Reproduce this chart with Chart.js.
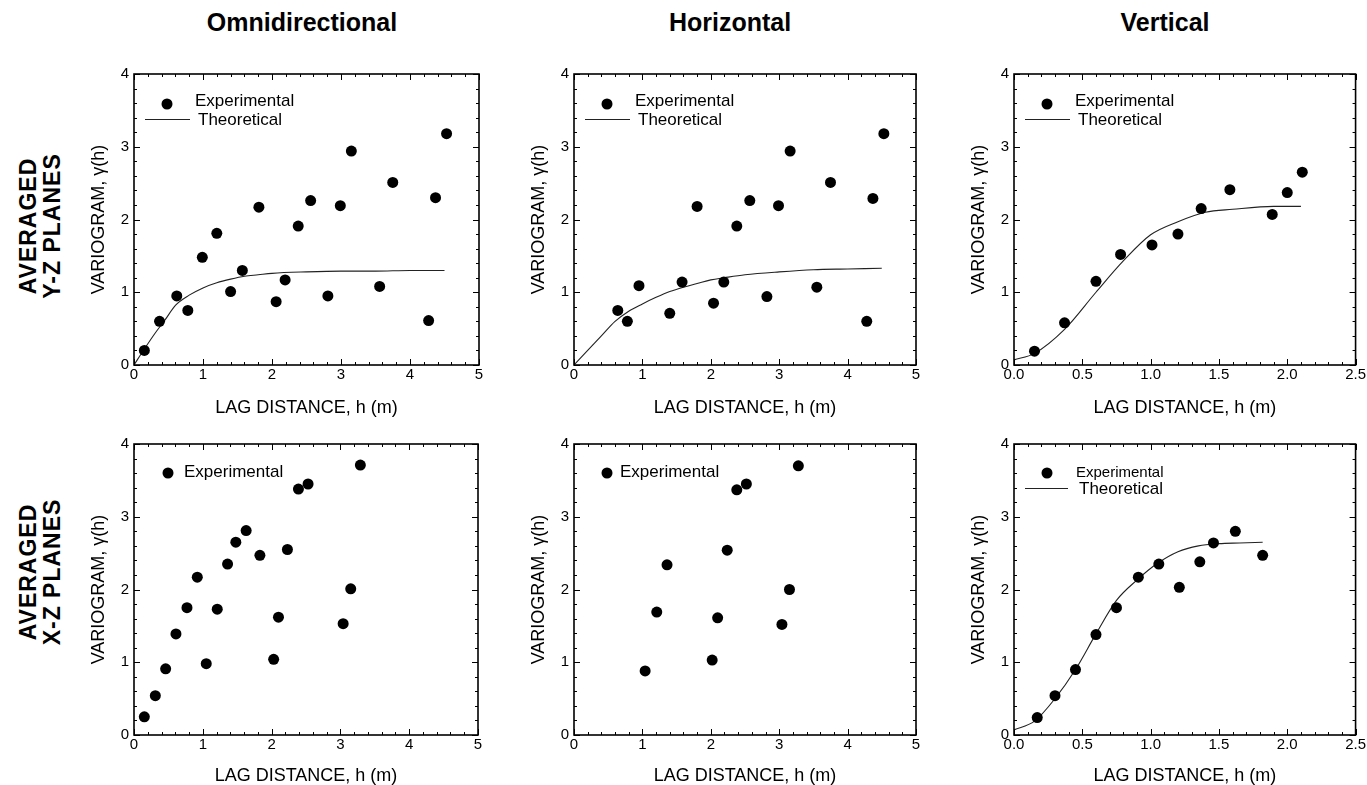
<!DOCTYPE html>
<html><head><meta charset="utf-8">
<script src="https://cdn.jsdelivr.net/npm/chart.js@4.4.1/dist/chart.umd.min.js"></script>
<style>
html,body{margin:0;padding:0;background:#fff;width:1367px;height:785px;overflow:hidden;position:relative;font-family:"Liberation Sans",Arial,sans-serif;color:#000}
canvas{position:absolute}
.ct{position:absolute;top:7px;font-weight:bold;font-size:25px;line-height:30px;transform:translateX(-50%);white-space:nowrap}
.rl{position:absolute;font-weight:bold;font-size:23px;line-height:24px;transform:translate(-50%,-50%) rotate(-90deg);white-space:nowrap;text-align:center;letter-spacing:1px}
</style></head>
<body>
<div class="ct" style="left:302px">Omnidirectional</div>
<div class="ct" style="left:730px">Horizontal</div>
<div class="ct" style="left:1165px">Vertical</div>
<div class="rl" style="left:40px;top:226px">AVERAGED<br>Y-Z PLANES</div>
<div class="rl" style="left:40px;top:572px">AVERAGED<br>X-Z PLANES</div>

<canvas id="c1" width="420" height="370" style="left:70px;top:60px"></canvas>
<canvas id="c2" width="420" height="370" style="left:510px;top:60px"></canvas>
<canvas id="c3" width="417" height="370" style="left:950px;top:60px"></canvas>
<canvas id="c4" width="420" height="355" style="left:70px;top:430px"></canvas>
<canvas id="c5" width="420" height="355" style="left:510px;top:430px"></canvas>
<canvas id="c6" width="417" height="355" style="left:950px;top:430px"></canvas>

<script>
// ---------- tick labels ----------
const xTicksLag5 = [0, 1, 2, 3, 4, 5];
const xTicksLag25 = [0, 0.5, 1.0, 1.5, 2.0, 2.5];
const yTicksVario = [0, 1, 2, 3, 4];

// ---------- Averaged Y-Z planes ----------
const omniYZ_expX = [0.15,0.37,0.62,0.78,0.99,1.20,1.40,1.57,1.81,2.06,2.19,2.38,2.56,2.81,2.99,3.15,3.56,3.75,4.27,4.37,4.53];
const omniYZ_expY = [0.20,0.60,0.95,0.75,1.48,1.81,1.01,1.30,2.17,0.87,1.17,1.91,2.26,0.95,2.19,2.94,1.08,2.51,0.61,2.30,3.18];
const omniYZ_thX = [0,0.15,0.3,0.45,0.6,0.8,1.0,1.2,1.4,1.6,1.8,2.0,2.5,3.0,3.5,4.0,4.5];
const omniYZ_thY = [0,0.22,0.43,0.62,0.82,0.96,1.06,1.13,1.18,1.22,1.24,1.26,1.28,1.29,1.29,1.30,1.30];

const horYZ_expX = [0.64,0.78,0.95,1.40,1.58,1.80,2.04,2.19,2.38,2.57,2.82,2.99,3.16,3.55,3.75,4.28,4.37,4.53];
const horYZ_expY = [0.75,0.60,1.09,0.71,1.14,2.18,0.85,1.14,1.91,2.26,0.94,2.19,2.94,1.07,2.51,0.60,2.29,3.18];
const horYZ_thX = [0,0.2,0.4,0.6,0.8,1.0,1.2,1.4,1.6,1.8,2.0,2.2,2.5,3.0,3.5,4.0,4.5];
const horYZ_thY = [0,0.2,0.4,0.6,0.74,0.84,0.93,1.01,1.07,1.12,1.17,1.20,1.24,1.28,1.31,1.32,1.33];

const verYZ_expX = [0.15,0.37,0.60,0.78,1.01,1.20,1.37,1.58,1.89,2.00,2.11];
const verYZ_expY = [0.19,0.58,1.15,1.52,1.65,1.80,2.15,2.41,2.07,2.37,2.65];
const verYZ_thX = [0,0.15,0.37,0.6,0.8,1.0,1.2,1.4,1.6,1.9,2.1];
const verYZ_thY = [0.07,0.16,0.49,1.0,1.43,1.79,1.97,2.10,2.14,2.18,2.18];

// ---------- Averaged X-Z planes ----------
const omniXZ_expX = [0.15,0.31,0.46,0.61,0.77,0.92,1.05,1.21,1.36,1.48,1.63,1.83,2.03,2.10,2.23,2.39,2.53,3.04,3.15,3.29];
const omniXZ_expY = [0.25,0.54,0.91,1.39,1.75,2.17,0.98,1.73,2.35,2.65,2.81,2.47,1.04,1.62,2.55,3.38,3.45,1.53,2.01,3.71];

const horXZ_expX = [1.04,1.21,1.36,2.02,2.10,2.24,2.38,2.52,3.04,3.15,3.28];
const horXZ_expY = [0.88,1.69,2.34,1.03,1.61,2.54,3.37,3.45,1.52,2.00,3.70];

const verXZ_expX = [0.17,0.30,0.45,0.60,0.75,0.91,1.06,1.21,1.36,1.46,1.62,1.82];
const verXZ_expY = [0.24,0.54,0.90,1.38,1.75,2.17,2.35,2.03,2.38,2.64,2.80,2.47];
const verXZ_thX = [0,0.15,0.3,0.45,0.6,0.75,0.9,1.05,1.2,1.35,1.5,1.65,1.82];
const verXZ_thY = [0.07,0.19,0.50,0.90,1.39,1.85,2.13,2.36,2.52,2.60,2.63,2.64,2.65];

// ---------- helpers ----------
const zip = (xs, ys) => xs.map((x, i) => ({x, y: ys[i]}));

const frameTicks = {
  id: 'frameTicks',
  afterDraw(chart, args, opts) {
    const {ctx, chartArea: a, scales: {x, y}} = chart;
    ctx.save();
    ctx.strokeStyle = '#000';
    ctx.lineWidth = 1;
    const drawX = (v, len) => {
      const px = Math.round(x.getPixelForValue(v)) + 0.5;
      ctx.beginPath();
      ctx.moveTo(px, a.bottom); ctx.lineTo(px, a.bottom - len);
      ctx.moveTo(px, a.top); ctx.lineTo(px, a.top + len);
      ctx.stroke();
    };
    const drawY = (v, len) => {
      const py = Math.round(y.getPixelForValue(v)) + 0.5;
      ctx.beginPath();
      ctx.moveTo(a.left, py); ctx.lineTo(a.left + len, py);
      ctx.moveTo(a.right, py); ctx.lineTo(a.right - len, py);
      ctx.stroke();
    };
    const nx = Math.round((x.max - x.min) / opts.xMinor);
    for (let i = 0; i <= nx; i++) drawX(x.min + i * opts.xMinor, 3);
    const ny = Math.round((y.max - y.min) / opts.yMinor);
    for (let i = 0; i <= ny; i++) drawY(y.min + i * opts.yMinor, 3);
    x.ticks.forEach(t => drawX(t.value, 6));
    y.ticks.forEach(t => drawY(t.value, 6));
    ctx.lineWidth = 1.6;
    ctx.strokeRect(a.left, a.top, a.right - a.left, a.bottom - a.top);
    ctx.restore();
  }
};

const innerLegend = {
  id: 'innerLegend',
  afterDraw(chart, args, opts) {
    if (!opts.items) return;
    const {ctx, chartArea: a} = chart;
    ctx.save();
    ctx.fillStyle = '#000';
    ctx.strokeStyle = '#222';
    ctx.textBaseline = 'middle';
    ctx.textAlign = 'left';
    opts.items.forEach(it => {
      if (it.type === 'dot') {
        ctx.beginPath();
        ctx.arc(a.left + it.mx, a.top + it.my, 5.5, 0, Math.PI * 2);
        ctx.fill();
      } else {
        ctx.lineWidth = 1;
        ctx.beginPath();
        ctx.moveTo(a.left + it.mx, a.top + it.my + 0.5);
        ctx.lineTo(a.left + it.mx2, a.top + it.my + 0.5);
        ctx.stroke();
      }
      ctx.font = (it.size || 17) + 'px "Liberation Sans", Arial, sans-serif';
      ctx.fillText(it.text, a.left + it.tx, a.top + it.ty);
    });
    ctx.restore();
  }
};

function makeChart(id, cfg) {
  const datasets = [{
    type: 'scatter',
    data: zip(cfg.expX, cfg.expY),
    pointRadius: 5.5, pointHoverRadius: 5.5,
    pointBackgroundColor: '#000', pointBorderWidth: 0,
    showLine: false, order: 1
  }];
  if (cfg.thX) datasets.push({
    type: 'line',
    data: zip(cfg.thX, cfg.thY),
    borderColor: '#222', borderWidth: 1.1,
    pointRadius: 0, tension: 0.4, cubicInterpolationMode: 'monotone',
    fill: false, order: 2
  });
  const tickFont = {family: '"Liberation Sans", Arial, sans-serif', size: 15};
  const titleFont = {family: '"Liberation Sans", Arial, sans-serif', size: 18, lineHeight: 1};
  return new Chart(document.getElementById(id), {
    data: {datasets},
    options: {
      responsive: false, animation: false,
      layout: {padding: {left: 0, top: 12, right: cfg.padR, bottom: 0}},
      plugins: {
        legend: {display: false}, tooltip: {enabled: false},
        frameTicks: {xMinor: cfg.xMinor, yMinor: 0.2},
        innerLegend: {items: cfg.legend}
      },
      scales: {
        x: {
          type: 'linear', min: cfg.xTicks[0], max: cfg.xTicks[cfg.xTicks.length - 1],
          afterBuildTicks: s => { s.ticks = cfg.xTicks.map(v => ({value: v})); },
          afterFit: s => { s.height = cfg.xH; },
          grid: {display: false, drawTicks: false}, border: {display: false},
          ticks: {color: '#000', font: tickFont, padding: 1, maxRotation: 0,
            callback: v => cfg.xDec ? Number(v).toFixed(1) : String(v)},
          title: {display: true, text: 'LAG DISTANCE, h (m)', color: '#000', font: titleFont,
            padding: {top: 0, bottom: cfg.xTitlePad}}
        },
        y: {
          type: 'linear', min: 0, max: 4,
          afterBuildTicks: s => { s.ticks = yTicksVario.map(v => ({value: v})); },
          afterFit: s => { s.width = 64; },
          grid: {display: false, drawTicks: false}, border: {display: false},
          ticks: {color: '#000', font: tickFont, padding: 5},
          title: {display: true, text: 'VARIOGRAM, \u03B3(h)', color: '#000', font: titleFont,
            padding: {top: 20, bottom: 0}}
        }
      }
    },
    plugins: [frameTicks, innerLegend]
  });
}

const legTop = [
  {type: 'dot', mx: 33, my: 30, tx: 61, ty: 27, text: 'Experimental'},
  {type: 'line', mx: 11, mx2: 56, my: 45, tx: 64, ty: 46, text: 'Theoretical'}
];

makeChart('c1', {expX: omniYZ_expX, expY: omniYZ_expY, thX: omniYZ_thX, thY: omniYZ_thY,
  xTicks: xTicksLag5, xMinor: 0.2, padR: 11, xH: 65, xTitlePad: 13, legend: legTop});
makeChart('c2', {expX: horYZ_expX, expY: horYZ_expY, thX: horYZ_thX, thY: horYZ_thY,
  xTicks: xTicksLag5, xMinor: 0.2, padR: 14, xH: 65, xTitlePad: 13, legend: legTop});
makeChart('c3', {expX: verYZ_expX, expY: verYZ_expY, thX: verYZ_thX, thY: verYZ_thY,
  xTicks: xTicksLag25, xDec: true, xMinor: 0.1, padR: 11, xH: 65, xTitlePad: 13, legend: legTop});
makeChart('c4', {expX: omniXZ_expX, expY: omniXZ_expY,
  xTicks: xTicksLag5, xMinor: 0.2, padR: 12, xH: 50, xTitlePad: 0,
  legend: [{type: 'dot', mx: 34, my: 29, tx: 50, ty: 28, text: 'Experimental'}]});
makeChart('c5', {expX: horXZ_expX, expY: horXZ_expY,
  xTicks: xTicksLag5, xMinor: 0.2, padR: 14, xH: 50, xTitlePad: 0,
  legend: [{type: 'dot', mx: 33, my: 29, tx: 46, ty: 28, text: 'Experimental'}]});
makeChart('c6', {expX: verXZ_expX, expY: verXZ_expY, thX: verXZ_thX, thY: verXZ_thY,
  xTicks: xTicksLag25, xDec: true, xMinor: 0.1, padR: 11, xH: 50, xTitlePad: 0,
  legend: [
    {type: 'dot', mx: 33, my: 29, tx: 62, ty: 29, text: 'Experimental', size: 15},
    {type: 'line', mx: 11, mx2: 54, my: 44, tx: 65, ty: 45, text: 'Theoretical', size: 17}
  ]});
</script>
</body></html>
